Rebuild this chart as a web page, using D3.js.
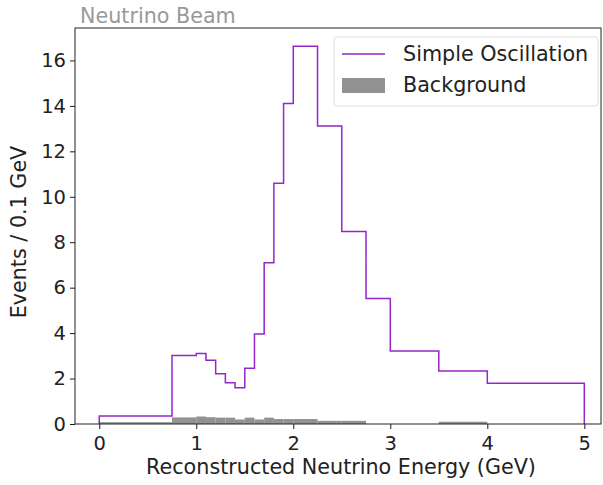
<!DOCTYPE html>
<html>
<head>
<meta charset="utf-8">
<script src="https://cdn.jsdelivr.net/npm/d3@7"></script>
<style>
  body { margin: 0; background: #fff; }
  text { font-family: "DejaVu Sans", sans-serif; }
</style>
</head>
<body>
<div id="chart"></div>
<script>
/* bin edges in GeV and per-bin contents */
const bin_edges = [0, 0.75, 1.0, 1.1, 1.2, 1.3, 1.4, 1.5, 1.6, 1.7, 1.8, 1.9, 2.0, 2.25, 2.5, 2.75, 3.0, 3.5, 4.0, 5.0];
const oscillation = [0.35, 3.02, 3.1, 2.81, 2.21, 1.82, 1.6, 2.45, 3.96, 7.1, 10.6, 14.1, 16.63, 13.11, 8.47, 5.52, 3.21, 2.33, 1.79];
const background = [0.08, 0.29, 0.33, 0.3, 0.28, 0.28, 0.2, 0.28, 0.2, 0.28, 0.22, 0.22, 0.22, 0.14, 0.14, 0, 0, 0.1, 0];
const x_ticks = [0, 1, 2, 3, 4, 5];
const y_ticks = [0, 2, 4, 6, 8, 10, 12, 14, 16];

const W = 603, H = 485;
const margin = { top: 28, right: 2, bottom: 61, left: 75 },
    width = W - margin.left - margin.right,
    height = H - margin.top - margin.bottom;

const purple = "#9526cc";
const grey = "#929292";
const fs = 20.7;

const svg = d3.select("#chart").append("svg")
    .attr("width", W)
    .attr("height", H);

const g = svg.append("g")
    .attr("transform", `translate(${margin.left}, ${margin.top})`);

const x = d3.scaleLinear().domain([-0.25, 5.172]).range([0, width]);
const y = d3.scaleLinear().domain([0, 16.63 * 1.048]).range([height, 0]);

/* background as filled bars */
g.append("g")
    .selectAll("rect")
    .data(background)
    .join("rect")
    .attr("x", (d, i) => x(bin_edges[i]))
    .attr("width", (d, i) => x(bin_edges[i + 1]) - x(bin_edges[i]))
    .attr("y", d => y(d))
    .attr("height", d => y(0) - y(d))
    .attr("fill", grey);

/* step outline for the oscillation histogram */
const pts = [[bin_edges[0], 0]];
oscillation.forEach((v, i) => {
    pts.push([bin_edges[i], v]);
    pts.push([bin_edges[i + 1], v]);
});
pts.push([bin_edges[bin_edges.length - 1], 0]);

g.append("path")
    .datum(pts)
    .attr("fill", "none")
    .attr("stroke", purple)
    .attr("stroke-width", 1.5)
    .attr("d", d3.line().x(d => x(d[0])).y(d => y(d[1])));

/* axes */
const xAxis = g.append("g")
    .attr("transform", `translate(0, ${height})`)
    .call(d3.axisBottom(x).tickValues(x_ticks).tickFormat(d3.format("d")).tickSize(5).tickPadding(4));
const yAxis = g.append("g")
    .call(d3.axisLeft(y).tickValues(y_ticks).tickFormat(d3.format("d")).tickSize(5).tickPadding(4));

[xAxis, yAxis].forEach(a => {
    a.select(".domain").remove();
    a.selectAll("line").attr("stroke", "#000").attr("stroke-width", 0.9);
    a.selectAll("text").attr("font-size", 19.5).attr("fill", "#222");
});
xAxis.selectAll("text").attr("dy", "0.85em");

/* frame */
g.append("rect")
    .attr("width", width)
    .attr("height", height)
    .attr("fill", "none")
    .attr("stroke", "#222")
    .attr("stroke-width", 1);

/* labels */
svg.append("text")
    .attr("x", 341)
    .attr("y", 474)
    .attr("text-anchor", "middle")
    .attr("font-size", fs)
    .attr("fill", "#222")
    .text("Reconstructed Neutrino Energy (GeV)");

svg.append("text")
    .attr("transform", `translate(26, 232) rotate(-90)`)
    .attr("text-anchor", "middle")
    .attr("font-size", fs)
    .attr("fill", "#222")
    .text("Events / 0.1 GeV");

svg.append("text")
    .attr("x", 80)
    .attr("y", 23)
    .attr("font-size", fs)
    .attr("fill", "#999")
    .text("Neutrino Beam");

/* legend */
const legend = svg.append("g").attr("transform", "translate(334, 37)");
legend.append("rect")
    .attr("width", 264)
    .attr("height", 69)
    .attr("rx", 3)
    .attr("fill", "#fff")
    .attr("fill-opacity", 0.8)
    .attr("stroke", "#ddd");
legend.append("line")
    .attr("x1", 8).attr("x2", 51)
    .attr("y1", 17).attr("y2", 17)
    .attr("stroke", purple)
    .attr("stroke-width", 1.5);
legend.append("rect")
    .attr("x", 8).attr("y", 41)
    .attr("width", 43).attr("height", 15)
    .attr("fill", grey);
legend.append("text")
    .attr("x", 69).attr("y", 24)
    .attr("font-size", fs)
    .attr("fill", "#222")
    .text("Simple Oscillation");
legend.append("text")
    .attr("x", 69).attr("y", 55)
    .attr("font-size", fs)
    .attr("fill", "#222")
    .text("Background");
</script>
</body>
</html>
